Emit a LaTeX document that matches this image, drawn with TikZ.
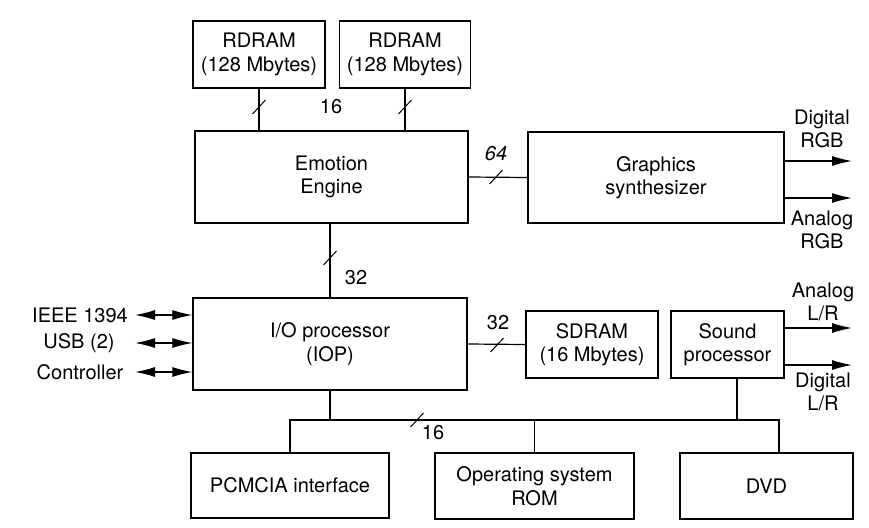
\documentclass[tikz,border=0pt]{standalone}
\usepackage{fontspec}
\setmainfont{TeX Gyre Heros}
\usetikzlibrary{arrows.meta}
\begin{document}
\begin{tikzpicture}[x=1pt,y=-1pt,
  txt/.style={font=\fontsize{20}{23.5}\selectfont, align=center, inner sep=0pt},
  box/.style={txt, draw, line width=1.3pt},
  conn/.style={line width=1.2pt},
  outarrow/.style={line width=1.2pt, -{Latex[length=20pt,width=10pt]}},
  bidir/.style={line width=1.2pt, {Latex[length=20pt,width=10pt]}-{Latex[length=20pt,width=10pt]}},
  slash/.pic={\draw[line width=1pt] (-6.5,7) -- (6.5,-7);}]
\useasboundingbox (0,0) rectangle (869,527);
% boxes
\node[box, minimum width=132pt, minimum height=67pt] (rd1) at (259,54.5) {RDRAM\\(128 Mbytes)};
\node[box, minimum width=131pt, minimum height=67pt] (rd2) at (405,54.5) {RDRAM\\(128 Mbytes)};
\node[box, minimum width=273pt, minimum height=92pt] (ee) at (331.5,177) {Emotion\\Engine};
\node[box, minimum width=256pt, minimum height=91pt] (gs) at (656,177.5) {Graphics\\synthesizer};
\node[box, minimum width=274pt, minimum height=92pt] (iop) at (330,344) {I/O processor\\(IOP)};
\node[box, minimum width=132pt, minimum height=67pt] (sd) at (592,344.5) {SDRAM\\(16 Mbytes)};
\node[box, minimum width=113pt, minimum height=67pt] (sp) at (727.5,344.5) {Sound\\processor};
\node[box, minimum width=198pt, minimum height=65pt] (pc) at (290,485.5) {PCMCIA interface};
\node[box, minimum width=199pt, minimum height=66pt] (os) at (534.5,486) {Operating system\\ROM};
\node[box, minimum width=173pt, minimum height=66pt] (dvd) at (766.5,486) {DVD};
% RDRAM buses
\draw[conn] (rd1.south) -- (rd1.south |- ee.north);
\draw[conn] (rd2.south) -- (rd2.south |- ee.north);
\pic at (259,107) {slash};
\pic at (405,107) {slash};
\node[txt] (l16a) at (331,107) {16};
% EE - GS
\draw[conn] (ee.east) -- (gs.west);
\pic at (496,177) {slash};
\node[txt, font=\fontsize{20}{23.5}\selectfont\itshape] (l64) at (496,154) {64};
% EE - IOP
\draw[conn] (ee.south -| iop.north) -- (iop.north);
\pic at (330,258) {slash};
\node[txt] (l32a) at (356,278) {32};
% IOP - SDRAM
\draw[conn] (iop.east) -- (sd.west);
\pic at (497,345) {slash};
\node[txt] (l32b) at (498,323) {32};
% GS outputs
\coordinate (gso1) at (852,161);
\coordinate (gso2) at (852,198);
\draw[outarrow] (gs.east |- gso1) -- (gso1);
\draw[outarrow] (gs.east |- gso2) -- (gso2);
\node[txt] (drgb) at (822,129) {Digital\\RGB};
\node[txt] (argb) at (822,230) {Analog\\RGB};
% Sound outputs
\coordinate (spo1) at (852,328);
\coordinate (spo2) at (852,365);
\draw[outarrow] (sp.east |- spo1) -- (spo1);
\draw[outarrow] (sp.east |- spo2) -- (spo2);
\node[txt] (alr) at (823,302) {Analog\\L/R};
\node[txt] (dlr) at (823,392) {Digital\\L/R};
% IOP left interfaces
\node[txt] (ieee) at (80,315) {IEEE 1394};
\node[txt] (usb) at (79,343) {USB (2)};
\node[txt] (ctl) at (80,372) {Controller};
\coordinate (a1) at (135,315);
\coordinate (a2) at (135,343);
\coordinate (a3) at (135,372);
\draw[bidir] (a1) -- (a1 -| iop.west);
\draw[bidir] (a2) -- (a2 -| iop.west);
\draw[bidir] (a3) -- (a3 -| iop.west);
% lower bus
\coordinate (busL) at (290,420);
\coordinate (busR) at (779,420);
\draw[conn] (pc.north) -- (busL) -- (busR) -- (busR |- dvd.north);
\draw[conn] (iop.south) -- (iop.south |- busL);
\draw[conn] (os.north) -- (os.north |- busL);
\draw[conn] ([xshift=9.5pt]sp.south) -- ([xshift=9.5pt]sp.south |- busL);
\pic at (417,420) {slash};
\node[txt] (l16b) at (433,433) {16};
\end{tikzpicture}
\end{document}
